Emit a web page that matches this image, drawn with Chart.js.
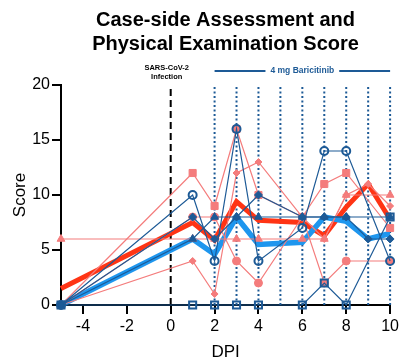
<!DOCTYPE html>
<html>
<head>
<meta charset="utf-8">
<script src="https://cdn.jsdelivr.net/npm/chart.js@4.4.1/dist/chart.umd.min.js"></script>
<style>
    html, body { margin: 0; padding: 0; background: #ffffff; }
</style>
</head>
<body>
<canvas id="score-chart" width="402" height="361"></canvas>
<script>
// case-side assessment chart - individual animals plus group means

// days post infection where scores were taken
const days = [-5, 1, 2, 3, 4, 6, 7, 8, 9, 10];

// red group - one array per animal (null = not scored that day)
const redSquare   = [0, 12, 9, 16, 10, 8, 11, 12, null, 7];
const redCircle   = [0, 8, 8, 4, 2, 8, 2, 4, null, 4];
const redTriangle = [6, 6, 6, 6, 6, 6, 6, 10, null, 10];
const redDiamond  = [0, 4, 1, 12, 13, 8, 6, 10, 11, 9];
const redMean     = [1.5, 7.5, 5.9, 9.4, 7.7, 7.5, 6.3, 8.9, 11, 7.8];

// blue group
const blueCircle   = [0, 10, 4, 16, 4, 7, 14, 14, null, 4];
const blueSquare   = [0, 0, 0, 0, 0, 0, 2, 0, null, 8];
const blueTriangle = [0, 6, 8, 8, 8, 8, 8, 8, null, 8];
const blueDiamond  = [0, 8, 6, 8, 10, 8, 8, 8, 6, 6];
const blueMean     = [0, 6, 4.6, 8, 5.5, 5.7, 8, 7.6, 6, 6.5];

// axis ticks
const xTicks = [-4, -2, 0, 2, 4, 6, 8, 10];
const yTicks = [0, 5, 10, 15, 20];

// the reference lines
const infectionDay = 0;
const treatmentDays = [2, 3, 4, 5, 6, 7, 8, 9, 10];

// colors
const COLOR_SALMON = '#f47c7c';
const COLOR_RED = '#ff3414';
const COLOR_NAVY = '#1d5a96';
const COLOR_AZURE = '#1e96ee';
const FONT = '"Liberation Sans", Arial, Helvetica, sans-serif';

Chart.defaults.font.family = FONT;
Chart.defaults.color = '#000';


// turns a value array into {x, y} points, skipping the missing days
function makePoints(values) {
    const points = [];
    for (let i = 0; i < days.length; i++) {
        if (values[i] !== null) {
            points.push({ x: days[i], y: values[i] });
        }
    }
    return points;
}

// one thin line for one animal
function animalLine(values, color, style, radius, filled, order) {
    return {
        data: makePoints(values),
        borderColor: color,
        borderWidth: 1.2,
        pointStyle: style,
        pointRadius: radius,
        pointBackgroundColor: filled ? color : 'rgba(0,0,0,0)',
        pointBorderColor: color,
        pointBorderWidth: filled ? 1 : 2,
        tension: 0,
        clip: false,
        order: order
    };
}

// thick mean line
function meanLine(values, color, width, order) {
    return {
        data: makePoints(values),
        borderColor: color,
        borderWidth: width,
        pointRadius: 0,
        tension: 0,
        clip: false,
        order: order
    };
}


// draws the dashed infection line, the dotted treatment lines and their labels
const referenceLines = {
    id: 'referenceLines',
    beforeDatasetsDraw(chart) {
        const ctx = chart.ctx;
        const x = chart.scales.x;
        const y = chart.scales.y;
        const top = y.getPixelForValue(20);
        const bottom = y.getPixelForValue(0);

        ctx.save();
        // dotted lines for each treatment day
        ctx.strokeStyle = COLOR_NAVY;
        ctx.lineWidth = 2;
        ctx.setLineDash([2, 2.5]);
        for (let i = 0; i < treatmentDays.length; i++) {
            const px = x.getPixelForValue(treatmentDays[i]);
            ctx.beginPath();
            ctx.moveTo(px, bottom);
            ctx.lineTo(px, top);
            ctx.stroke();
        }
        // dashed line at infection
        ctx.strokeStyle = '#000';
        ctx.setLineDash([7, 4]);
        const ix = x.getPixelForValue(infectionDay);
        ctx.beginPath();
        ctx.moveTo(ix, bottom);
        ctx.lineTo(ix, top);
        ctx.stroke();
        ctx.restore();
    },
    afterDraw(chart) {
        const ctx = chart.ctx;
        const x = chart.scales.x;
        const top = chart.chartArea.top;

        ctx.save();
        ctx.textAlign = 'center';
        ctx.textBaseline = 'middle';

        // infection label
        const ix = x.getPixelForValue(infectionDay) - 4;
        ctx.fillStyle = '#000';
        ctx.font = 'bold 7.5px ' + FONT;
        ctx.fillText('SARS-CoV-2', ix, top - 17);
        ctx.fillText('Infection', ix, top - 8);

        // treatment bar with the label in the middle
        const x1 = x.getPixelForValue(treatmentDays[0]);
        const x2 = x.getPixelForValue(treatmentDays[treatmentDays.length - 1]);
        const mid = (x1 + x2) / 2;
        const barY = top - 14;
        ctx.font = 'bold 8.5px ' + FONT;
        ctx.fillStyle = COLOR_NAVY;
        const label = '4 mg Baricitinib';
        const half = ctx.measureText(label).width / 2;
        ctx.fillText(label, mid, barY);
        ctx.strokeStyle = COLOR_NAVY;
        ctx.lineWidth = 2;
        ctx.beginPath();
        ctx.moveTo(x1, barY);
        ctx.lineTo(mid - half - 5, barY);
        ctx.moveTo(mid + half + 5, barY);
        ctx.lineTo(x2, barY);
        ctx.stroke();
        ctx.restore();
    }
};


const ctx = document.getElementById('score-chart').getContext('2d');

new Chart(ctx, {
    type: 'line',
    data: {
        datasets: [
            meanLine(redMean, COLOR_RED, 5, 11),
            meanLine(blueMean, COLOR_AZURE, 5.5, 10),
            animalLine(redSquare, COLOR_SALMON, 'rect', 5, true, 5),
            animalLine(redCircle, COLOR_SALMON, 'circle', 4, true, 5),
            animalLine(redTriangle, COLOR_SALMON, 'triangle', 4.5, true, 5),
            animalLine(redDiamond, COLOR_SALMON, 'rectRot', 3.5, true, 5),
            animalLine(blueCircle, COLOR_NAVY, 'circle', 4, false, 1),
            animalLine(blueSquare, COLOR_NAVY, 'rect', 5, false, 1),
            animalLine(blueTriangle, COLOR_NAVY, 'triangle', 4.5, true, 1),
            animalLine(blueDiamond, COLOR_NAVY, 'rectRot', 4, true, 1)
        ]
    },
    options: {
        responsive: false,
        animation: false,
        layout: { padding: { left: 0, right: 11, top: 0, bottom: 0 } },
        plugins: {
            legend: { display: false },
            tooltip: { enabled: false },
            title: {
                display: true,
                fullSize: false,
                text: ['Case-side Assessment and', 'Physical Examination Score'],
                color: '#000',
                font: { size: 20, weight: 'bold', lineHeight: 1.2 },
                padding: { top: 8, bottom: 29 }
            }
        },
        scales: {
            x: {
                type: 'linear',
                min: -5,
                max: 10,
                afterBuildTicks: function(scale) {
                    scale.ticks = xTicks.map(function(v) { return { value: v }; });
                },
                afterFit: function(scale) { scale.height = 56; },
                border: { display: true, color: '#000', width: 2 },
                grid: { drawOnChartArea: false, drawTicks: true, tickLength: 9, color: '#000', lineWidth: 2 },
                ticks: { color: '#000', font: { size: 16 }, padding: 3, maxRotation: 0, autoSkip: false },
                title: {
                    display: true,
                    text: 'DPI',
                    color: '#000',
                    font: { size: 17, lineHeight: 1 },
                    padding: { top: 0, bottom: 0 }
                }
            },
            y: {
                min: 0,
                max: 20,
                afterBuildTicks: function(scale) {
                    scale.ticks = yTicks.map(function(v) { return { value: v }; });
                },
                afterFit: function(scale) { scale.width = 61; },
                border: { display: true, color: '#000', width: 2 },
                grid: { drawOnChartArea: false, drawTicks: true, tickLength: 9, color: '#000', lineWidth: 2 },
                ticks: { color: '#000', font: { size: 16 }, padding: 2 },
                title: {
                    display: true,
                    text: 'Score',
                    color: '#000',
                    font: { size: 17, lineHeight: 1 },
                    padding: { top: 12, bottom: 0 }
                }
            }
        }
    },
    plugins: [referenceLines]
});
</script>
</body>
</html>
